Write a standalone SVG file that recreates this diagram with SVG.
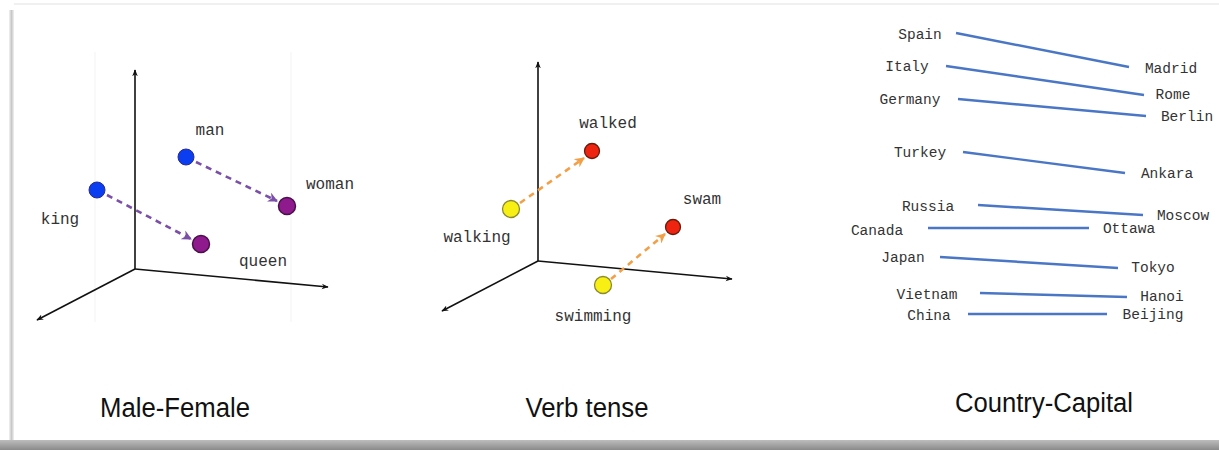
<svg xmlns="http://www.w3.org/2000/svg" width="1219" height="450" viewBox="0 0 1219 450">
<defs>
<marker id="ax" viewBox="0 0 10 10" refX="9" refY="5" markerWidth="7" markerHeight="7" orient="auto" markerUnits="userSpaceOnUse"><path d="M0,1 L10,5 L0,9 L3,5 Z" fill="#111"/></marker>
<marker id="ap" viewBox="0 0 10 10" refX="9" refY="5" markerWidth="10" markerHeight="10" orient="auto" markerUnits="userSpaceOnUse"><path d="M0,0 L10,5 L0,10 L3,5 Z" fill="#7b4fa8"/></marker>
<marker id="ao" viewBox="0 0 10 10" refX="9" refY="5" markerWidth="10" markerHeight="10" orient="auto" markerUnits="userSpaceOnUse"><path d="M0,0 L10,5 L0,10 L3,5 Z" fill="#f2a048"/></marker>
<linearGradient id="sh" x1="0" y1="0" x2="0" y2="1"><stop offset="0" stop-color="#bdbdbd"/><stop offset="1" stop-color="#8a8a8a"/></linearGradient>
<linearGradient id="lb" x1="0" y1="0" x2="1" y2="0"><stop offset="0" stop-color="#f2f2f2"/><stop offset="0.5" stop-color="#c8c8c8"/><stop offset="1" stop-color="#f2f2f2"/></linearGradient>
</defs>
<style>
.axis{stroke:#111;stroke-width:1.6;fill:none}
.lbl{font-family:"Liberation Mono","Courier New",monospace;font-size:16px;fill:#333;text-anchor:middle}
.cty{font-family:"Liberation Mono","Courier New",monospace;font-size:14.5px;fill:#333;text-anchor:middle}
.ttl{font-family:"Liberation Sans",Arial,sans-serif;font-size:27px;fill:#111;text-anchor:middle}
.dp{stroke:#7b4fa8;stroke-width:2.6;stroke-dasharray:6 5;fill:none}
.do{stroke:#f2a048;stroke-width:2.6;stroke-dasharray:6 5;fill:none}
.cl{stroke:#4a76c6;stroke-width:2.4;fill:none}
.blue{fill:#0a3ef0;stroke:#2a2a90;stroke-width:1}
.purple{fill:#8e1a8e;stroke:#4a104a;stroke-width:1.5}
.yellow{fill:#f8f015;stroke:#8a8a30;stroke-width:1.3}
.red{fill:#ee2410;stroke:#6a1a0a;stroke-width:1.3}
</style>
<rect width="1219" height="450" fill="#fff"/>
<rect x="0" y="440" width="1219" height="10" fill="url(#sh)"/>
<rect x="9" y="10" width="5" height="430" fill="url(#lb)"/>
<line x1="14" y1="4" x2="1219" y2="4" stroke="#f0f0f0" stroke-width="2"/>
<line x1="95" y1="52" x2="95" y2="322" stroke="#f3f3f3" stroke-width="1"/>
<line x1="291" y1="52" x2="291" y2="322" stroke="#f3f3f3" stroke-width="1"/>

<g id="axes">
<line class="axis" x1="135" y1="269" x2="135" y2="70" marker-end="url(#ax)"/>
<line class="axis" x1="135" y1="269" x2="328" y2="287" marker-end="url(#ax)"/>
<line class="axis" x1="135" y1="269" x2="37" y2="320" marker-end="url(#ax)"/>
<line class="axis" x1="538" y1="261" x2="538" y2="62" marker-end="url(#ax)"/>
<line class="axis" x1="538" y1="261" x2="732" y2="279" marker-end="url(#ax)"/>
<line class="axis" x1="538" y1="261" x2="442" y2="311" marker-end="url(#ax)"/>
</g>

<g id="connectors">
<line class="dp" x1="196" y1="162" x2="277" y2="201" marker-end="url(#ap)"/>
<line class="dp" x1="107" y1="195" x2="191" y2="239" marker-end="url(#ap)"/>
<line class="do" x1="520" y1="203" x2="584" y2="158" marker-end="url(#ao)"/>
<line class="do" x1="611" y1="279" x2="665" y2="234" marker-end="url(#ao)"/>
<line class="cl" x1="956" y1="33" x2="1129" y2="67"/>
<line class="cl" x1="946" y1="66" x2="1144" y2="95"/>
<line class="cl" x1="958" y1="99" x2="1146" y2="116"/>
<line class="cl" x1="963" y1="152" x2="1125" y2="173"/>
<line class="cl" x1="978" y1="205" x2="1143" y2="215"/>
<line class="cl" x1="928" y1="228" x2="1089" y2="228"/>
<line class="cl" x1="940" y1="257" x2="1118" y2="268"/>
<line class="cl" x1="980" y1="293" x2="1127" y2="297"/>
<line class="cl" x1="968" y1="314" x2="1107" y2="314"/>
</g>

<g id="man"><circle class="blue" cx="186" cy="157" r="8"/><text class="lbl" x="210" y="135">man</text></g>
<g id="woman"><circle class="purple" cx="287" cy="206" r="8.5"/><text class="lbl" x="330" y="189">woman</text></g>
<g id="king"><circle class="blue" cx="97" cy="190" r="8"/><text class="lbl" x="60" y="224">king</text></g>
<g id="queen"><circle class="purple" cx="201" cy="244" r="8.5"/><text class="lbl" x="263" y="266">queen</text></g>

<g id="walked"><circle class="red" cx="592" cy="151" r="7.5"/><text class="lbl" x="608" y="128">walked</text></g>
<g id="walking"><circle class="yellow" cx="511" cy="209" r="8.5"/><text class="lbl" x="477" y="242">walking</text></g>
<g id="swam"><circle class="red" cx="673" cy="227" r="7.5"/><text class="lbl" x="702" y="204">swam</text></g>
<g id="swimming"><circle class="yellow" cx="603" cy="285" r="8.5"/><text class="lbl" x="593" y="321">swimming</text></g>

<g id="Spain"><text class="cty" x="920" y="39">Spain</text></g>
<g id="Madrid"><text class="cty" x="1171" y="73">Madrid</text></g>
<g id="Italy"><text class="cty" x="907" y="71">Italy</text></g>
<g id="Rome"><text class="cty" x="1173" y="99">Rome</text></g>
<g id="Germany"><text class="cty" x="910" y="104">Germany</text></g>
<g id="Berlin"><text class="cty" x="1187" y="121">Berlin</text></g>
<g id="Turkey"><text class="cty" x="920" y="157">Turkey</text></g>
<g id="Ankara"><text class="cty" x="1167" y="178">Ankara</text></g>
<g id="Russia"><text class="cty" x="928" y="211">Russia</text></g>
<g id="Moscow"><text class="cty" x="1183" y="220">Moscow</text></g>
<g id="Canada"><text class="cty" x="877" y="235">Canada</text></g>
<g id="Ottawa"><text class="cty" x="1129" y="233">Ottawa</text></g>
<g id="Japan"><text class="cty" x="903" y="262">Japan</text></g>
<g id="Tokyo"><text class="cty" x="1153" y="272">Tokyo</text></g>
<g id="Vietnam"><text class="cty" x="927" y="299">Vietnam</text></g>
<g id="Hanoi"><text class="cty" x="1162" y="301">Hanoi</text></g>
<g id="China"><text class="cty" x="929" y="320">China</text></g>
<g id="Beijing"><text class="cty" x="1153" y="319">Beijing</text></g>

<g id="titles">
<text class="ttl" x="175" y="417" textLength="150" lengthAdjust="spacingAndGlyphs">Male-Female</text>
<text class="ttl" x="587" y="417" textLength="123" lengthAdjust="spacingAndGlyphs">Verb tense</text>
<text class="ttl" x="1044" y="412" textLength="178" lengthAdjust="spacingAndGlyphs">Country-Capital</text>
</g>
</svg>
